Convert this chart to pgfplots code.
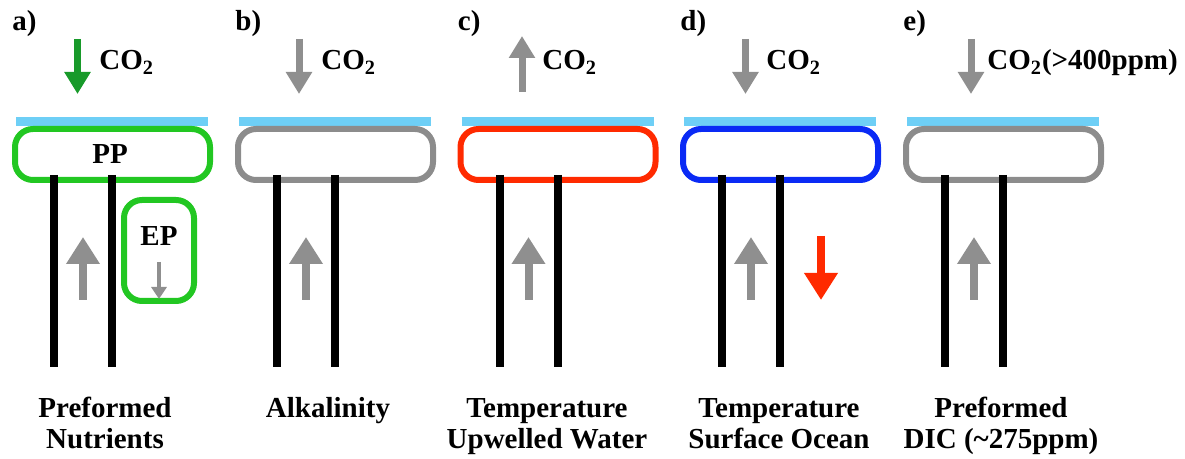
\documentclass[border=0pt]{standalone}
\usepackage{pgfplots}
\pgfplotsset{compat=1.18}
\usepackage{fontspec}
\setmainfont{Liberation Serif}
\usetikzlibrary{arrows.meta}

\definecolor{sea}{HTML}{6ECFF6}
\definecolor{boxgreen}{HTML}{22C722}
\definecolor{arrgreen}{HTML}{189A2A}
\definecolor{boxgray}{HTML}{8C8C8C}
\definecolor{arrgray}{HTML}{8F8F8F}
\definecolor{boxred}{HTML}{FF2A00}
\definecolor{boxblue}{HTML}{0A2AF5}

\tikzset{
  lbl/.style={font=\bfseries\fontsize{14.5}{15}\selectfont, inner sep=0pt},
  bigarrow/.style={line width=4pt, -{Triangle[length=13.5pt,width=16pt]}},
  fluxarrow/.style={line width=3.5pt, -{Triangle[length=11pt,width=12.5pt]}},
  smallarrow/.style={line width=2pt, -{Triangle[length=6pt,width=7.5pt]}},
  wall/.style={black, line width=4pt},
  surface/.style={sea, line width=4.5pt},
  mixbox/.style={line width=3pt, rounded corners=9pt},
}

\begin{document}
\begin{tikzpicture}
\begin{axis}[
  scale only axis,
  width=592.5pt, height=229.5pt,
  xmin=0, xmax=1185, ymin=0, ymax=459,
  y dir=reverse,
  hide axis,
  clip=false,
]
\path (rel axis cs:0,0) rectangle (rel axis cs:1,1);

% ---------- a) preformed nutrients ----------
\addplot[surface] coordinates {(16,121.5) (208,121.5)};
\addplot[mixbox, boxgreen] coordinates {(15,129) (210,129) (210,180) (15,180)} -- cycle;
\addplot[wall] coordinates {(54,175) (54,367)};
\addplot[wall] coordinates {(112,175) (112,367)};
\addplot[bigarrow, arrgray] coordinates {(83,300) (83,237)};
\addplot[fluxarrow, arrgreen] coordinates {(77.5,39) (77.5,94)};
\addplot[mixbox, boxgreen] coordinates {(124,200) (194,200) (194,301) (124,301)} -- cycle;
\addplot[smallarrow, arrgray] coordinates {(159,262) (159,299)};
\node[lbl, anchor=base west] at (axis cs:12,31) {a)};
\node[lbl, anchor=base west] at (axis cs:99,70) {CO\textsubscript{2}};
\node[lbl] at (axis cs:110,154) {PP};
\node[lbl] at (axis cs:159,236) {EP};
\node[lbl, anchor=base] at (axis cs:105,418) {Preformed};
\node[lbl, anchor=base] at (axis cs:105,449) {Nutrients};

% ---------- b) alkalinity ----------
\addplot[surface] coordinates {(239,121.5) (431,121.5)};
\addplot[mixbox, boxgray] coordinates {(238,129) (433,129) (433,180) (238,180)} -- cycle;
\addplot[wall] coordinates {(277,175) (277,367)};
\addplot[wall] coordinates {(335,175) (335,367)};
\addplot[bigarrow, arrgray] coordinates {(306,300) (306,237)};
\addplot[fluxarrow, arrgray] coordinates {(299,39) (299,94)};
\node[lbl, anchor=base west] at (axis cs:235,31) {b)};
\node[lbl, anchor=base west] at (axis cs:321,70) {CO\textsubscript{2}};
\node[lbl, anchor=base] at (axis cs:328,418) {Alkalinity};

% ---------- c) temperature, upwelled water ----------
\addplot[surface] coordinates {(461.5,121.5) (653.5,121.5)};
\addplot[mixbox, boxred] coordinates {(460.5,129) (655.5,129) (655.5,180) (460.5,180)} -- cycle;
\addplot[wall] coordinates {(499.5,175) (499.5,367)};
\addplot[wall] coordinates {(557.5,175) (557.5,367)};
\addplot[bigarrow, arrgray] coordinates {(528.5,300) (528.5,237)};
\addplot[fluxarrow, arrgray] coordinates {(522,92) (522,36)};
\node[lbl, anchor=base west] at (axis cs:457.5,31) {c)};
\node[lbl, anchor=base west] at (axis cs:542,70) {CO\textsubscript{2}};
\node[lbl, anchor=base] at (axis cs:547,418) {Temperature};
\node[lbl, anchor=base] at (axis cs:547,449) {Upwelled Water};

% ---------- d) temperature, surface ocean ----------
\addplot[surface] coordinates {(684,121.5) (876,121.5)};
\addplot[mixbox, boxblue] coordinates {(683,129) (878,129) (878,180) (683,180)} -- cycle;
\addplot[wall] coordinates {(722,175) (722,367)};
\addplot[wall] coordinates {(780,175) (780,367)};
\addplot[bigarrow, arrgray] coordinates {(751,300) (751,237)};
\addplot[bigarrow, boxred] coordinates {(821,236) (821,300)};
\addplot[fluxarrow, arrgray] coordinates {(745.5,39) (745.5,94)};
\node[lbl, anchor=base west] at (axis cs:680,31) {d)};
\node[lbl, anchor=base west] at (axis cs:766,70) {CO\textsubscript{2}};
\node[lbl, anchor=base] at (axis cs:779,418) {Temperature};
\node[lbl, anchor=base] at (axis cs:779,449) {Surface Ocean};

% ---------- e) preformed DIC ----------
\addplot[surface] coordinates {(907,121.5) (1099,121.5)};
\addplot[mixbox, boxgray] coordinates {(906,129) (1101,129) (1101,180) (906,180)} -- cycle;
\addplot[wall] coordinates {(945,175) (945,367)};
\addplot[wall] coordinates {(1003,175) (1003,367)};
\addplot[bigarrow, arrgray] coordinates {(974,300) (974,237)};
\addplot[fluxarrow, arrgray] coordinates {(971,39) (971,94)};
\node[lbl, anchor=base west] at (axis cs:903,31) {e)};
\node[lbl, anchor=base west] at (axis cs:987,70) {CO\textsubscript{2}(>400ppm)};
\node[lbl, anchor=base] at (axis cs:1001,418) {Preformed};
\node[lbl, anchor=base] at (axis cs:1001,449) {DIC (\textasciitilde275ppm)};
\end{axis}
\end{tikzpicture}
\end{document}
